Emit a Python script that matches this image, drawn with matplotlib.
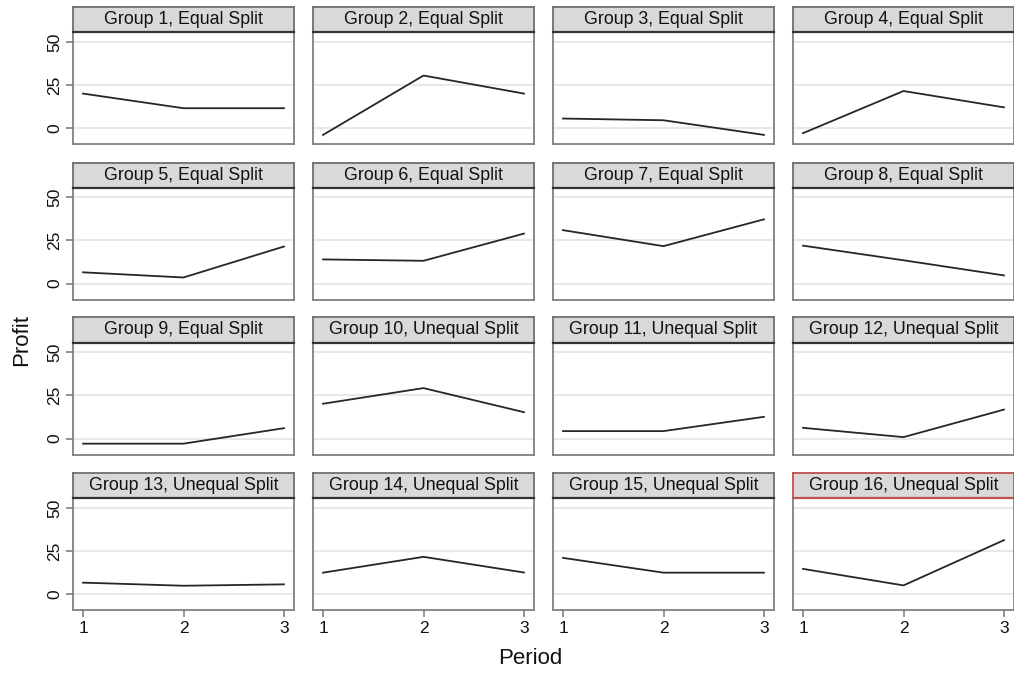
import matplotlib
matplotlib.use("Agg")
import matplotlib.pyplot as plt
import numpy as np

plt.rcParams['font.family'] = ['Liberation Sans', 'DejaVu Sans']

periods = [1, 2, 3]
titles = ["Group %d, %s Split" % (g, "Equal" if g <= 9 else "Unequal") for g in range(1, 17)]
profit = [
    [20, 11.5, 11.5], [-4, 30.5, 20], [5.5, 4.5, -4], [-3, 21.5, 12],
    [6.5, 3.5, 21.5], [14, 13.2, 29], [31, 21.7, 37.3], [22, 13.5, 4.7],
    [-3, -3, 6], [20.2, 29.3, 15.3], [4.3, 4.3, 12.6], [6.2, 0.8, 16.8],
    [6.6, 4.8, 5.6], [12.4, 21.6, 12.5], [21, 12.4, 12.4], [14.6, 5, 31.3],
]
yticks = [0, 25, 50]

W, H = 1014, 675
fig = plt.figure(figsize=(W / 100, H / 100), dpi=100)

col_left = [73, 313, 553, 793]
row_top = [7, 162.5, 317.5, 473]
pw, strip_h, ph = 221, 25, 112
frame = '#808080'

for i in range(16):
    r, c = divmod(i, 4)
    x0 = col_left[c]
    y_strip = row_top[r]
    ax = fig.add_axes([x0 / W, (H - y_strip - strip_h - ph) / H, pw / W, ph / H])
    ax.plot(periods, profit[i], color='#262626', lw=1.3, zorder=3)
    ax.set_xlim(0.9, 3.1)
    ax.set_ylim(-9.3, 55.8)
    ax.set_yticks(yticks)
    ax.set_xticks(periods)
    for yv in yticks:
        ax.axhline(yv, color='#e8e8e8', lw=1.5, zorder=1)
    for s in ax.spines.values():
        s.set_color(frame)
        s.set_linewidth(1.3)
    ax.tick_params(axis='both', colors=frame, length=5, width=1.2,
                   labelsize=12.5, labelcolor='#111111', pad=3)
    ax.tick_params(axis='y', labelrotation=90)
    for lab in ax.get_yticklabels():
        lab.set_va('center')
    if c != 0:
        ax.tick_params(axis='y', left=False, labelleft=False)
    if r != 3:
        ax.tick_params(axis='x', bottom=False, labelbottom=False)

    sax = fig.add_axes([x0 / W, (H - y_strip - strip_h) / H, pw / W, strip_h / H])
    sax.set_facecolor('#d9d9d9')
    sax.set_xticks([])
    sax.set_yticks([])
    edge = '#c0504d' if i == 15 else '#6e6e6e'
    for s in sax.spines.values():
        s.set_color(edge)
        s.set_linewidth(1.3)
    sax.spines['bottom'].set_color('#333333' if i != 15 else edge)
    sax.spines['bottom'].set_linewidth(1.6)
    sax.text(0.5, 0.5, titles[i], ha='center', va='center', fontsize=12.8,
             color='#111111', transform=sax.transAxes)

fig.text(22 / W, 1 - 340 / H, "Profit", rotation=90, ha='center', va='center',
         fontsize=16, color='#111111')
fig.text(530 / W, 1 - 658 / H, "Period", ha='center', va='center',
         fontsize=16, color='#111111')

fig.savefig("out.png", dpi=100, facecolor='white')
